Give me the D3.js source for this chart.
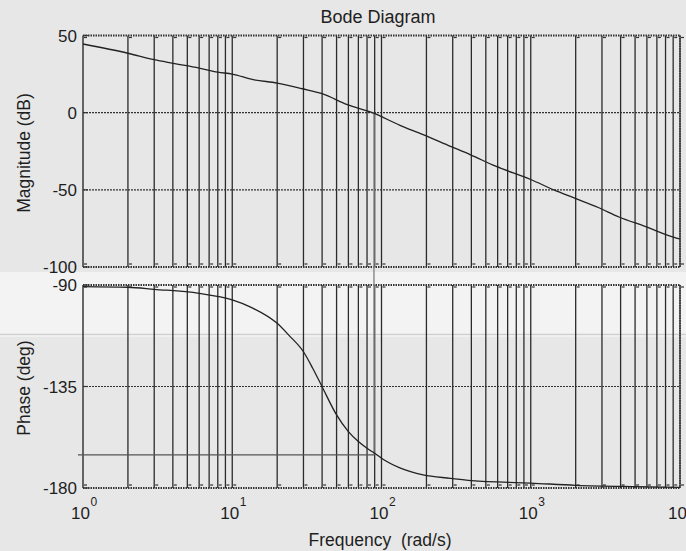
<!DOCTYPE html>
<html>
<head>
<meta charset="utf-8">
<script src="https://cdn.jsdelivr.net/npm/d3@7"></script>
<style>
  body { margin: 0; background: #e7e7e7; }
  svg { display: block; }
  text { font-family: "Liberation Sans", Arial, sans-serif; fill: #1e1e1e; }
</style>
</head>
<body>
<div id="chart"></div>
<script>
// values
var mag_freq = [1, 2, 3, 4, 6, 8, 10, 13.8, 20, 29.5, 40, 59, 87, 133, 190, 290, 395, 582, 1000, 1440, 1950, 2860, 3900, 5760, 9600, 10000];
var mag_db   = [44.5, 38.5, 34.3, 32, 28.9, 26.3, 25, 21.4, 19.2, 15.5, 12.3, 5.2, 0, -8.2, -14.2, -21.8, -27.3, -34.7, -43.3, -50.2, -55.2, -61.6, -67.6, -73.5, -81.4, -81.8];

var phase_freq = [1, 2, 3, 6, 10, 13.5, 20, 23.9, 30, 34.6, 40, 50, 60, 70, 80, 90, 100, 134, 190, 290, 400, 1000, 2000, 5000, 10000];
var phase_deg  = [-90.7, -91, -91.9, -93.7, -96.6, -100, -107, -112.2, -119.6, -126.9, -135.1, -147.6, -155, -159.4, -162.4, -164.6, -166.8, -171.2, -174.2, -175.7, -176.7, -177.8, -178.8, -179.4, -179.7];

var mag_ticks = [50, 0, -50, -100];
var phase_ticks = [-90, -135, -180];
var decades = [0, 1, 2, 3, 4];

// crossover marking drawn on the print
var cross_freq = 89;
var cross_phase = -165.3;

var W = 686, H = 551;

var x = d3.scaleLog().domain([1, 1e4]).range([83, 680]);
var y_mag = d3.scaleLinear().domain([-100, 50]).range([267, 35.5]);
var y_ph = d3.scaleLinear().domain([-180, -90]).range([488, 285]);

var svg = d3.select("#chart").append("svg")
	.attr("width", W)
	.attr("height", H);

// paper: whiter strip above the fold
svg.append("rect").attr("x", 0).attr("y", 0).attr("width", W).attr("height", H).attr("fill", "#e7e7e7");
svg.append("rect").attr("x", 0).attr("y", 272).attr("width", W).attr("height", 62).attr("fill", "#f3f3f3");
svg.append("line").attr("x1", 0).attr("x2", W).attr("y1", 334.5).attr("y2", 334.5)
	.attr("stroke", "#cfcfcf").attr("stroke-width", 1.5);
svg.append("line").attr("x1", 0).attr("x2", W).attr("y1", 336).attr("y2", 336)
	.attr("stroke", "#fafafa").attr("stroke-width", 1);

// all log grid positions
var grid_vals = [];
decades.slice(0, 4).forEach(function(d) {
	for (var k = 1; k <= 9; k++) grid_vals.push(k * Math.pow(10, d));
});
grid_vals.push(1e4);

function draw_panel(ys, ticks) {
	var g = svg.append("g");
	var top = ys.range()[1], bot = ys.range()[0];
	var x0 = x.range()[0], x1 = x.range()[1];

	// horizontal dotted grid
	g.selectAll("line.hgrid")
		.data(ticks.slice(1, ticks.length - 1))
		.enter().append("line")
		.attr("class", "hgrid")
		.attr("x1", x0).attr("x2", x1)
		.attr("y1", function(d) { return ys(d); })
		.attr("y2", function(d) { return ys(d); })
		.attr("stroke", "#333")
		.attr("stroke-width", 1.1)
		.attr("stroke-dasharray", "2,1");

	// vertical grid (prints as solid)
	g.selectAll("line.vgrid")
		.data(grid_vals.slice(1))
		.enter().append("line")
		.attr("class", "vgrid")
		.attr("x1", function(d) { return x(d); })
		.attr("x2", function(d) { return x(d); })
		.attr("y1", top).attr("y2", bot)
		.attr("stroke", "#2b2b2b")
		.attr("stroke-width", 1.3);

	// little tick stubs at top and bottom
	[top + 2, bot - 3].forEach(function(yy) {
		g.selectAll(null)
			.data(grid_vals)
			.enter().append("line")
			.attr("x1", function(d) { return x(d) + 1; })
			.attr("x2", function(d) { return x(d) + 4; })
			.attr("y1", yy).attr("y2", yy)
			.attr("stroke", "#333").attr("stroke-width", 1.2);
	});

	// frame
	g.append("line").attr("x1", x0).attr("x2", x0).attr("y1", top).attr("y2", bot)
		.attr("stroke", "#2b2b2b").attr("stroke-width", 1.4);
	[top, bot].forEach(function(yy) {
		g.append("line").attr("x1", x0).attr("x2", x1).attr("y1", yy).attr("y2", yy)
			.attr("stroke", "#333").attr("stroke-width", 2.2).attr("stroke-dasharray", "1.5,1");
	});
	g.append("line").attr("x1", x1).attr("x2", x1).attr("y1", top).attr("y2", bot)
		.attr("stroke", "#333").attr("stroke-width", 1.6).attr("stroke-dasharray", "1.5,1");

	// y ticks + labels
	g.selectAll("line.ytick")
		.data(ticks)
		.enter().append("line")
		.attr("class", "ytick")
		.attr("x1", x0 + 1).attr("x2", x0 + 5)
		.attr("y1", function(d) { return ys(d); })
		.attr("y2", function(d) { return ys(d); })
		.attr("stroke", "#333").attr("stroke-width", 1.2);
	g.selectAll("text.ylab")
		.data(ticks)
		.enter().append("text")
		.attr("class", "ylab")
		.attr("x", 77)
		.attr("y", function(d) { return ys(d); })
		.attr("dy", "0.36em")
		.attr("text-anchor", "end")
		.style("font-size", "17px")
		.text(function(d) { return d; });
}

draw_panel(y_mag, mag_ticks);
draw_panel(y_ph, phase_ticks);

// crossover marks
svg.append("line")
	.attr("x1", x(cross_freq)).attr("x2", x(cross_freq))
	.attr("y1", y_mag(0)).attr("y2", y_ph(cross_phase))
	.attr("stroke", "#8a8a8a").attr("stroke-width", 1.8).attr("opacity", 0.8);
svg.append("line")
	.attr("x1", x(1) - 5).attr("x2", x(cross_freq))
	.attr("y1", y_ph(cross_phase)).attr("y2", y_ph(cross_phase))
	.attr("stroke", "#555").attr("stroke-width", 1.1);

// curves
var mag_line = d3.line()
	.x(function(d, i) { return x(mag_freq[i]); })
	.y(function(d) { return y_mag(d); })
	.curve(d3.curveMonotoneX);
svg.append("path")
	.attr("d", mag_line(mag_db))
	.attr("fill", "none").attr("stroke", "#222").attr("stroke-width", 1.3);

var ph_line = d3.line()
	.x(function(d, i) { return x(phase_freq[i]); })
	.y(function(d) { return y_ph(d); })
	.curve(d3.curveMonotoneX);
svg.append("path")
	.attr("d", ph_line(phase_deg))
	.attr("fill", "none").attr("stroke", "#222").attr("stroke-width", 1.3);

// x tick labels 10^k
var xl = svg.selectAll("g.xlab")
	.data(decades)
	.enter().append("g")
	.attr("class", "xlab")
	.attr("transform", function(d) { return "translate(" + x(Math.pow(10, d)) + ",0)"; });
xl.append("text")
	.attr("x", 7).attr("y", 519)
	.attr("text-anchor", "end")
	.style("font-size", "17px")
	.text("10");
xl.append("text")
	.attr("x", 7.5).attr("y", 506)
	.style("font-size", "12px")
	.text(function(d) { return d; });

// titles
svg.append("text")
	.attr("x", 378).attr("y", 23)
	.attr("text-anchor", "middle")
	.style("font-size", "18px")
	.text("Bode Diagram");
svg.append("text")
	.attr("x", 380).attr("y", 546)
	.attr("text-anchor", "middle")
	.style("font-size", "17.5px")
	.style("white-space", "pre")
	.text("Frequency  (rad/s)");
svg.append("text")
	.attr("transform", "translate(30,153) rotate(-90)")
	.attr("text-anchor", "middle")
	.style("font-size", "17.5px")
	.text("Magnitude (dB)");
svg.append("text")
	.attr("transform", "translate(30,388) rotate(-90)")
	.attr("text-anchor", "middle")
	.style("font-size", "17.5px")
	.text("Phase (deg)");
</script>
</body>
</html>
